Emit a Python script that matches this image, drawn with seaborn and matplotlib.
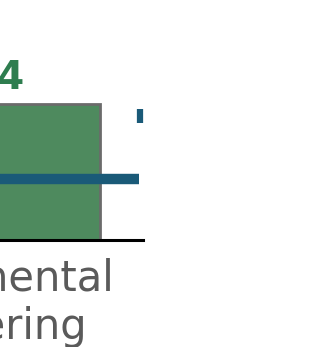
import matplotlib
matplotlib.use("Agg")
import matplotlib.pyplot as plt
import seaborn as sns
import pandas as pd

# ---- data ----
categories = ["Environmental\nEngineering"]
values = [1234]
target_values = [555]
next_marker_x = [0.517]
next_marker_y = [1129]

sns.set_theme(style="white")
plt.rcParams['font.family'] = ['DejaVu Sans']

df = pd.DataFrame({"category": categories, "value": values})

fig = plt.figure(figsize=(3.23, 3.47), dpi=100)
W, H = 323.0, 347.0
# axes placed so that only the right part of the chart is visible
xl, xr = -0.5, 0.5255
center_px = -37.0
px_per_x = 342.5
left_px = center_px + xl * px_per_x
ax = fig.add_axes([left_px / W, 107.5 / H, (xr - xl) * px_per_x / W, 188.0 / H])

sns.barplot(data=df, x="category", y="value", ax=ax, color="#4E8A5E",
            edgecolor="#6b6b6b", linewidth=2.0, width=0.8, saturation=1)

ax.bar_label(ax.containers[0], fmt="{:,.0f}", padding=5,
             color="#2E7D4F", fontsize=28, fontweight="bold")

ax.hlines(target_values, xl, 0.514, colors="#1A5A78", linewidth=7.5)
ax.plot(next_marker_x, next_marker_y, marker="|", markersize=10,
        markeredgewidth=4.5, color="#1A5A78", linestyle="none")

ax.set_xlim(xl, xr)
ax.set_ylim(0, 1712)
ax.set_xlabel("")
ax.set_ylabel("")
ax.set_yticks([])
for s in ["top", "left", "right"]:
    ax.spines[s].set_visible(False)
ax.spines["bottom"].set_color("black")
ax.spines["bottom"].set_linewidth(2.2)
ax.tick_params(axis="x", length=0, pad=13, labelsize=30, labelcolor="#5a5a5a")

fig.savefig("out.png", dpi=100)
